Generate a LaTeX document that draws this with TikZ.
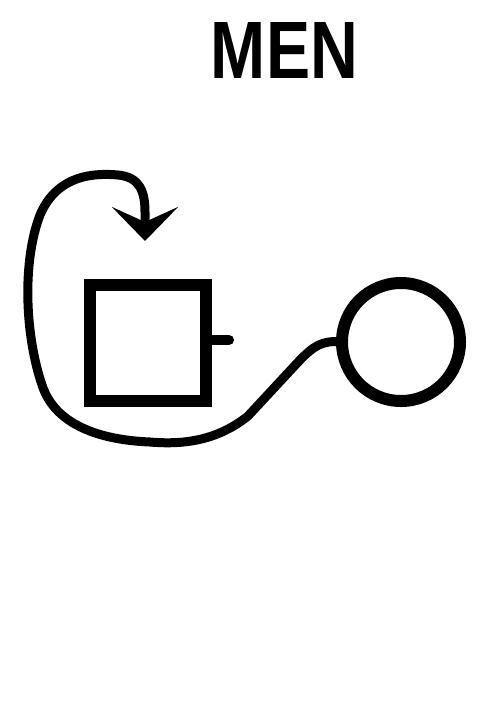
\documentclass[tikz,border=0pt]{standalone}
\usepackage{fontspec}
\setmainfont{Liberation Sans}
\usetikzlibrary{arrows.meta}
\begin{document}
\begin{tikzpicture}[x=1pt,y=-1pt,
  thickbox/.style={draw=black,line width=12pt,inner sep=0pt,outer sep=0pt},
  conn/.style={draw=black,line width=9pt,line cap=round,line join=round}]
\useasboundingbox (0,0) rectangle (496,715);
\fill[white] (0,0) rectangle (496,715);
\node (title) at (284.5,50) {\resizebox{147pt}{56pt}{\textbf{MEN}}};
\node[thickbox,rectangle,minimum width=116pt,minimum height=116pt] (s) at (148,343) {};
\node[thickbox,circle,minimum size=118pt] (c) at (401,342) {};
\coordinate (stubend) at (229,340);
\coordinate (tip) at (145,241);
\draw[conn,line width=10pt] (s.east |- stubend) -- (stubend);
\draw[conn,-{Stealth[length=34pt,width=66pt,inset=15pt]}]
  (c.west) .. controls (322,340) and (314,346) .. (300,360)
  -- (248,416)
  .. controls (218,440) and (185,445) .. (150,442)
  .. controls (100,440) and (55,425) .. (42,385)
  .. controls (25,335) and (22,262) .. (40,215)
  .. controls (55,180) and (85,172) .. (118,175)
  .. controls (140,177) and (145,192) .. (145,212)
  -- (tip);
\end{tikzpicture}
\end{document}
